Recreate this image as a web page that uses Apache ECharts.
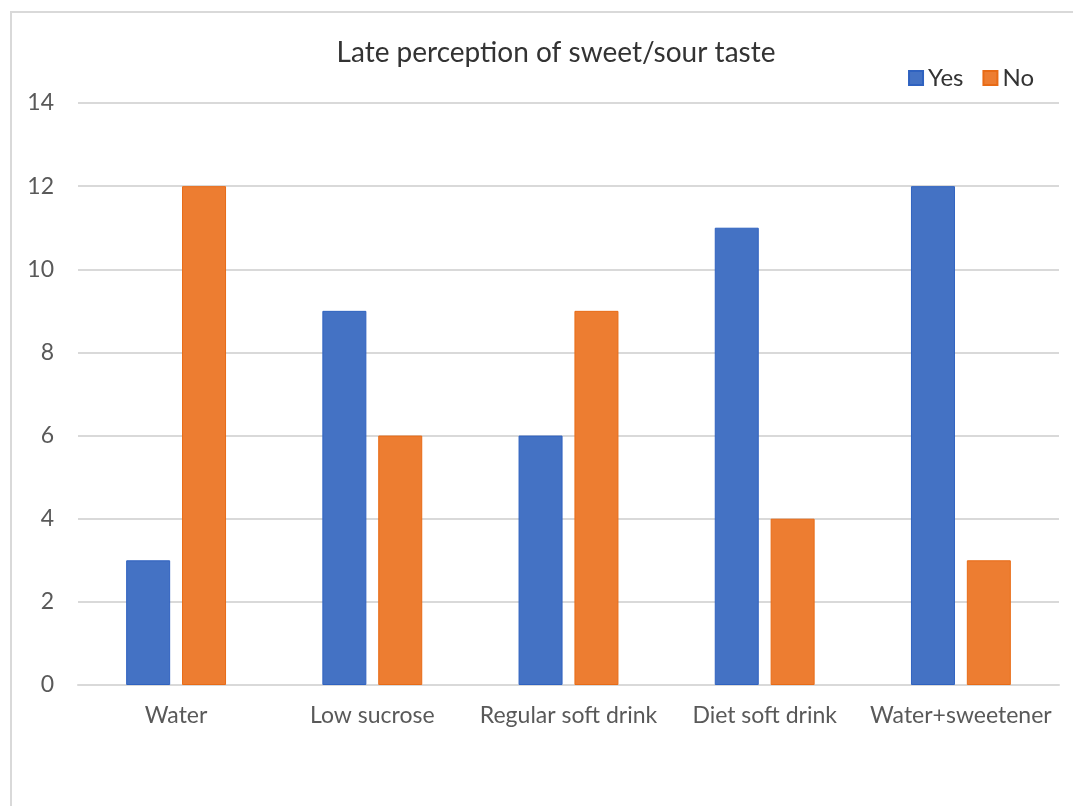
<!DOCTYPE html>
<html>
<head>
<meta charset="utf-8">
<script src="https://cdn.jsdelivr.net/npm/echarts@6/dist/echarts.min.js"></script>
<style>
  html, body { margin: 0; padding: 0; background: #fff; }
  #chart { width: 1073px; height: 806px; }
</style>
</head>
<body>
<div id="chart"></div>
<script>
// Late perception of sweet/sour taste, counts per drink
const categories = ['Water', 'Low sucrose', 'Regular soft drink', 'Diet soft drink', 'Water+sweetener'];
const yesValues = [3, 9, 6, 11, 12];
const noValues = [12, 6, 9, 4, 3];
const yTicks = [0, 2, 4, 6, 8, 10, 12, 14];

const FONT = 'Lato, "Open Sans", sans-serif';
const TEXT = '#595959';

const chart = echarts.init(document.getElementById('chart'));
chart.setOption({
  animation: false,
  backgroundColor: '#fff',
  graphic: [{
    type: 'rect',
    shape: { x: 11, y: 12, width: 1100, height: 900 },
    style: { fill: 'none', stroke: '#d9d9d9', lineWidth: 2 },
    silent: true
  }],
  title: {
    text: 'Late perception of sweet/sour taste',
    left: 551,
    top: 34,
    textAlign: 'center',
    textStyle: { fontFamily: FONT, fontSize: 28, fontWeight: 'normal', color: '#333' }
  },
  legend: {
    right: 34,
    top: 61,
    itemWidth: 14,
    itemHeight: 14,
    itemGap: 19,
    icon: 'rect',
    textStyle: { fontFamily: FONT, fontSize: 24, color: '#333' },
    data: ['Yes', 'No']
  },
  grid: { left: 78, right: 14, top: 103, bottom: 121, containLabel: false },
  xAxis: {
    type: 'category',
    data: categories,
    axisLine: { lineStyle: { color: '#d9d9d9', width: 2 } },
    axisTick: { show: false },
    axisLabel: { fontFamily: FONT, fontSize: 23, color: TEXT, margin: 19, interval: 0 }
  },
  yAxis: {
    type: 'value',
    min: yTicks[0],
    max: yTicks[yTicks.length - 1],
    interval: 2,
    axisLine: { show: false },
    axisTick: { show: false },
    axisLabel: { fontFamily: FONT, fontSize: 23, color: TEXT, margin: 24 },
    splitLine: { lineStyle: { color: '#d9d9d9', width: 2 } }
  },
  series: [
    {
      name: 'Yes',
      type: 'bar',
      data: yesValues,
      barWidth: 44,
      barGap: '27%',
      itemStyle: { color: '#4472C4', borderColor: '#2f62c0', borderWidth: 1 }
    },
    {
      name: 'No',
      type: 'bar',
      data: noValues,
      barWidth: 44,
      itemStyle: { color: '#ED7D31', borderColor: '#e86b16', borderWidth: 1 }
    }
  ]
});
</script>
</body>
</html>
